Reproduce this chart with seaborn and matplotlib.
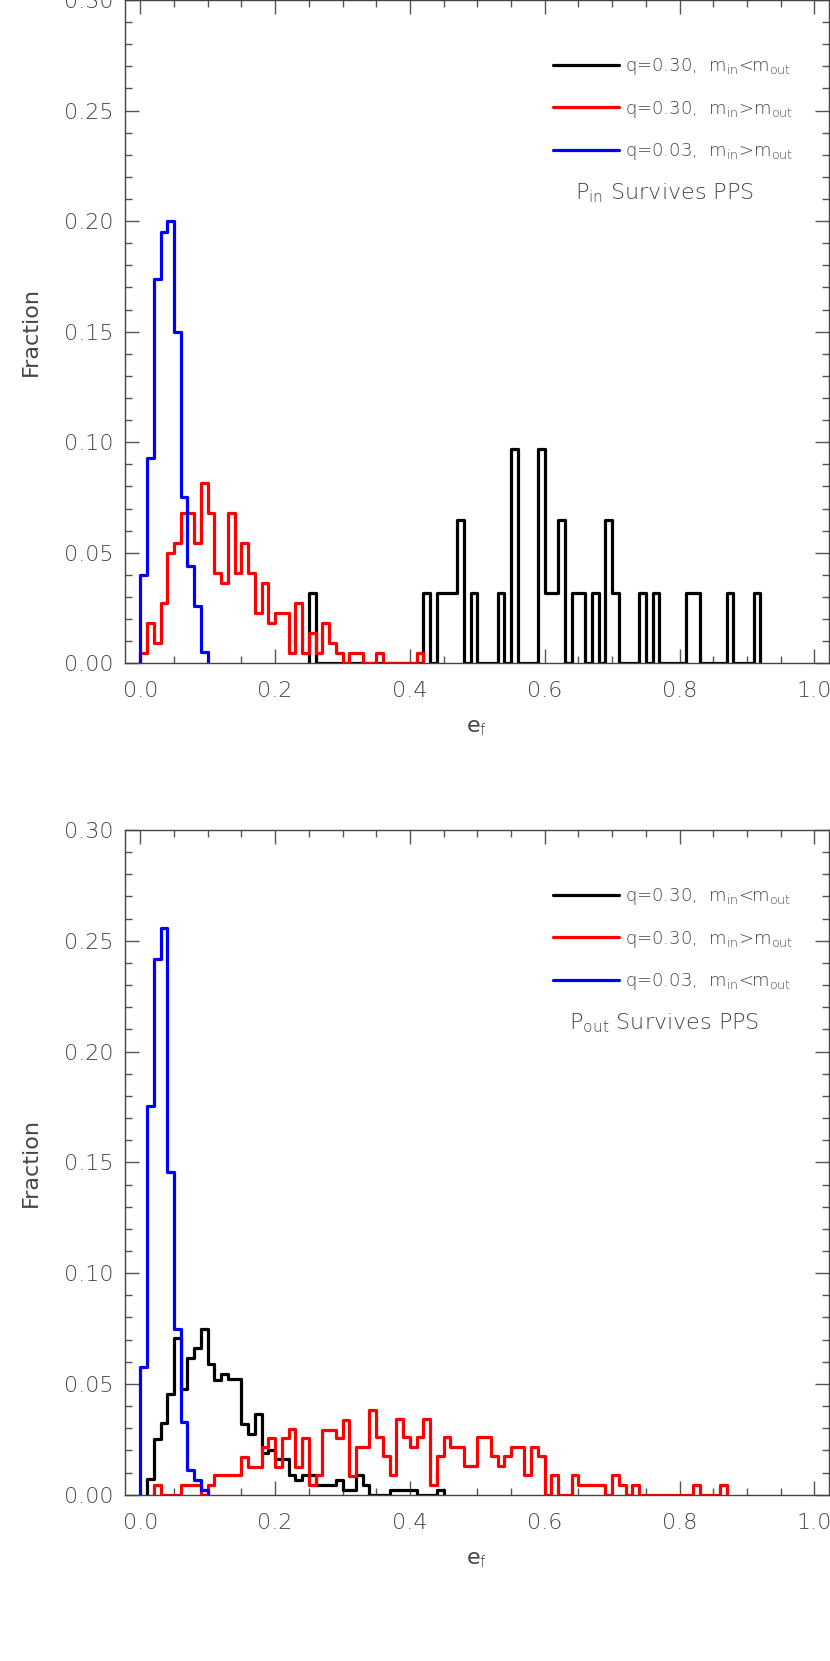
import numpy as np
import pandas as pd
import matplotlib
matplotlib.use('Agg')
import matplotlib.pyplot as plt
import matplotlib.ticker as ticker
from matplotlib.lines import Line2D
import seaborn as sns

# bin width of all histograms (e_f)
BIN = 0.01

# --- Top panel: P_in survives PPS (first bin edge + fraction per bin) ---
top_black_start = 0.25
top_black = [0.032, 0, 0, 0, 0, 0, 0, 0, 0, 0, 0, 0, 0, 0, 0, 0, 0,
             0.032, 0, 0.032, 0.032, 0.032, 0.065, 0, 0.032, 0, 0, 0,
             0.032, 0, 0.097, 0, 0, 0, 0.097, 0.032, 0.032, 0.065, 0,
             0.032, 0.032, 0, 0.032, 0, 0.065, 0.032, 0, 0, 0, 0.032,
             0, 0.032, 0, 0, 0, 0, 0.032, 0.032, 0, 0, 0, 0, 0.032,
             0, 0, 0, 0.032]
top_red_start = 0.0
top_red = [0.0045, 0.0181, 0.0090, 0.0271, 0.0497, 0.0542, 0.0678, 0.0678,
           0.0542, 0.0814, 0.0678, 0.0407, 0.0362, 0.0678, 0.0407, 0.0542,
           0.0407, 0.0226, 0.0362, 0.0181, 0.0226, 0.0226, 0.0045, 0.0271,
           0.0045, 0.0136, 0.0045, 0.0181, 0.0090, 0.0045, 0.0, 0.0045,
           0.0045, 0.0, 0.0, 0.0045, 0.0, 0.0, 0.0, 0.0, 0.0, 0.0045]
top_blue_start = 0.0
top_blue = [0.040, 0.093, 0.174, 0.195, 0.200, 0.150, 0.075, 0.044, 0.026, 0.005]
top_labels = [r'q=0.30,  m$_{\rm in}$<m$_{\rm out}$',
              r'q=0.30,  m$_{\rm in}$>m$_{\rm out}$',
              r'q=0.03,  m$_{\rm in}$>m$_{\rm out}$']
top_note = r'P$_{\rm in}$ Survives PPS'

# --- Bottom panel: P_out survives PPS ---
bot_black_start = 0.01
bot_black = [0.0069, 0.0252, 0.0322, 0.0455, 0.0705, 0.0479, 0.0618, 0.0662,
             0.0750, 0.0592, 0.0516, 0.0544, 0.0524, 0.0524, 0.0318, 0.0274,
             0.0366, 0.0187, 0.0202, 0.0160, 0.0160, 0.0089, 0.0066, 0.0089,
             0.0089, 0.0044, 0.0044, 0.0044, 0.0066, 0.0021, 0.0021, 0.0089,
             0.0044, 0, 0, 0, 0.0021, 0.0021, 0.0021, 0.0021, 0, 0, 0, 0.0021]
bot_red_start = 0.02
bot_red = [0.0044, 0, 0, 0, 0.0044, 0.0044, 0.0044, 0, 0.0044, 0.0089,
           0.0089, 0.0089, 0.0089, 0.0172, 0.0123, 0.0123, 0.0217, 0.0254,
           0.0123, 0.0254, 0.0295, 0.0123, 0.0254, 0.0044, 0.0089, 0.0292,
           0.0292, 0.0255, 0.0337, 0.0085, 0.0217, 0.0217, 0.0383, 0.0259,
           0.0175, 0.0089, 0.0342, 0.0259, 0.0217, 0.0259, 0.0342, 0.0044,
           0.0175, 0.0259, 0.0217, 0.0217, 0.0131, 0.0131, 0.0259, 0.0259,
           0.0175, 0.0131, 0.0175, 0.0217, 0.0217, 0.0089, 0.0217, 0.0175,
           0, 0.0089, 0, 0, 0.0089, 0.0044, 0.0044, 0.0044, 0.0044, 0,
           0.0089, 0.0044, 0, 0.0044, 0, 0, 0, 0, 0, 0, 0, 0, 0.0044,
           0, 0, 0, 0.0044]
bot_blue_start = 0.0
bot_blue = [0.0576, 0.1754, 0.2417, 0.2557, 0.1457, 0.0750, 0.0330, 0.0112,
            0.0066, 0.0021]
bot_labels = [r'q=0.30,  m$_{\rm in}$<m$_{\rm out}$',
              r'q=0.30,  m$_{\rm in}$>m$_{\rm out}$',
              r'q=0.03,  m$_{\rm in}$<m$_{\rm out}$']
bot_note = r'P$_{\rm out}$ Survives PPS'

colors = ['black', '#ff0000', '#0000ff']

sns.set_theme(style='ticks')
plt.rcParams['font.family'] = ['DejaVu Sans']
plt.rcParams['font.weight'] = 'light'
plt.rcParams['mathtext.fontset'] = 'custom'
plt.rcParams['mathtext.rm'] = 'DejaVu Sans:light'
plt.rcParams['mathtext.it'] = 'DejaVu Sans:italic:light'
plt.rcParams['mathtext.bf'] = 'DejaVu Sans:bold'
TXT = '#444444'


def draw_hist(ax, start, fracs, color):
    """Step outline of a binned histogram, closed down to zero at both ends"""
    n = len(fracs)
    edges = np.round(start + BIN * np.arange(n + 1), 5)
    eps = 1e-6
    bins = np.concatenate([[edges[0] - eps], edges, [edges[-1] + eps]])
    df = pd.DataFrame({
        'e_f': (bins[:-1] + bins[1:]) / 2,
        'frac': np.concatenate([[0.0], np.asarray(fracs, float), [0.0]]),
    })
    sns.histplot(data=df, x='e_f', weights='frac', bins=bins.tolist(),
                 element='step', fill=False, color=color, linewidth=2.3, ax=ax)


def style_axes(ax, labels, note):
    ax.set_xlim(-0.0227, 1.0218)
    ax.set_ylim(0, 0.30)
    ax.xaxis.set_major_locator(ticker.MultipleLocator(0.2))
    ax.xaxis.set_minor_locator(ticker.MultipleLocator(0.05))
    ax.yaxis.set_major_locator(ticker.MultipleLocator(0.05))
    ax.yaxis.set_minor_locator(ticker.MultipleLocator(0.01))
    ax.xaxis.set_major_formatter(ticker.FormatStrFormatter('%.1f'))
    ax.yaxis.set_major_formatter(ticker.FormatStrFormatter('%.2f'))
    ax.tick_params(which='both', direction='in', top=True, right=True,
                   colors='#555555', labelcolor=TXT, labelsize=16, width=1.0)
    ax.tick_params(which='major', length=10)
    ax.tick_params(which='minor', length=5)
    ax.tick_params(axis='x', which='major', pad=13)
    ax.tick_params(axis='y', which='major', pad=8)
    for s in ax.spines.values():
        s.set_color('#444444')
        s.set_linewidth(1.0)
    ax.set_xlabel(r'e$_{\rm f}$', fontsize=16, color=TXT)
    ax.set_ylabel('Fraction', fontsize=16, color=TXT)
    ax.xaxis.set_label_coords(0.5, -0.083)
    ax.yaxis.set_label_coords(-0.119, 0.5)

    handles = [Line2D([], [], color=c, lw=2.3) for c in colors]
    ax.legend(handles, labels, loc='upper right', bbox_to_anchor=(0.949, 0.9156),
              frameon=False, fontsize=13, handlelength=3.7, handletextpad=0.3,
              labelspacing=1.2, borderpad=0, borderaxespad=0, labelcolor=TXT)
    ax.text(0.766, 0.709, note, transform=ax.transAxes, fontsize=16,
            color=TXT, ha='center', va='center')


fig = plt.figure(figsize=(8.3, 16.61), dpi=100)
ax_top = fig.add_axes([125 / 830, (1661 - 663.3) / 1661, 704 / 830, 663.3 / 1661])
ax_bot = fig.add_axes([125 / 830, (1661 - 1494.7) / 1661, 704 / 830, 664.7 / 1661])

# Top panel
draw_hist(ax_top, top_black_start, top_black, colors[0])
draw_hist(ax_top, top_red_start, top_red, colors[1])
draw_hist(ax_top, top_blue_start, top_blue, colors[2])
style_axes(ax_top, top_labels, top_note)

# Bottom panel
draw_hist(ax_bot, bot_black_start, bot_black, colors[0])
draw_hist(ax_bot, bot_red_start, bot_red, colors[1])
draw_hist(ax_bot, bot_blue_start, bot_blue, colors[2])
style_axes(ax_bot, bot_labels, bot_note)

fig.savefig('out.png', dpi=100, facecolor='white')
